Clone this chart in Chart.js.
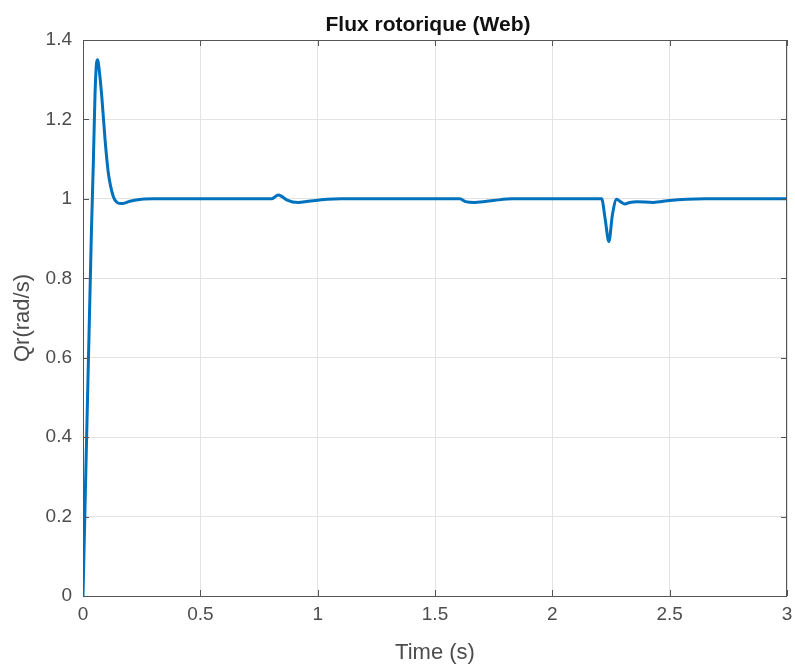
<!DOCTYPE html>
<html>
<head>
<meta charset="utf-8">
<script src="https://cdn.jsdelivr.net/npm/chart.js@4.4.0/dist/chart.umd.min.js"></script>
<style>
  html, body { margin: 0; padding: 0; background: #fff; }
  #wrap { width: 795px; height: 665px; }
</style>
</head>
<body>
<div id="wrap"><canvas id="fluxChart" width="795" height="665"></canvas></div>
<script>
// Flux rotorique simulé (Web) en fonction du temps
const temps = [0, 0.036, 0.044, 0.051, 0.058, 0.063, 0.068, 0.08, 0.094, 0.108, 0.129, 0.145, 0.165, 0.2, 0.25, 0.3, 0.4,
    0.804, 0.82, 0.832, 0.845, 0.87, 0.917, 0.96, 1.04, 1.1,
    1.606, 1.63, 1.67, 1.75, 1.83,
    2.21, 2.225, 2.241, 2.256, 2.274, 2.29, 2.309, 2.33, 2.359, 2.43, 2.5, 2.572, 2.65, 3.0];
const flux = [0, 0.92, 1.09, 1.258, 1.343, 1.35, 1.33, 1.258, 1.149, 1.065, 1.006, 0.991, 0.988, 0.994, 0.999, 1.0, 1.0,
    1.0, 1.006, 1.01, 1.007, 0.997, 0.991, 0.994, 0.999, 1.0,
    1.0, 0.993, 0.991, 0.996, 1.0,
    1.0, 0.95, 0.8925, 0.96, 0.999, 0.993, 0.987, 0.991, 0.993, 0.991, 0.996, 0.999, 1.0, 1.0];
const xTicks = [0, 0.5, 1, 1.5, 2, 2.5, 3];
const yTicks = [0, 0.2, 0.4, 0.6, 0.8, 1, 1.2, 1.4];

const titre = 'Flux rotorique (Web)';
const labelX = 'Time (s)';
const labelY = 'Qr(rad/s)';

const police = '"Liberation Sans", Arial, sans-serif';
const points = temps.map((t, i) => ({ x: t, y: flux[i] }));

// cadre complet + petites graduations vers l'intérieur, titre et labels
const decorPlugin = {
    id: 'decor',
    afterDraw(chart) {
        const { ctx, chartArea: a, scales } = chart;
        ctx.save();
        ctx.strokeStyle = '#555555';
        ctx.lineWidth = 1;
        ctx.strokeRect(a.left + 0.5, a.top + 0.5, a.right - a.left - 1, a.bottom - a.top);
        ctx.beginPath();
        xTicks.forEach(v => {
            const px = Math.round(scales.x.getPixelForValue(v)) + 0.5;
            ctx.moveTo(px, a.bottom); ctx.lineTo(px, a.bottom - 6);
            ctx.moveTo(px, a.top); ctx.lineTo(px, a.top + 6);
        });
        yTicks.forEach(v => {
            const py = Math.round(scales.y.getPixelForValue(v)) + 0.5;
            ctx.moveTo(a.left, py); ctx.lineTo(a.left + 6, py);
            ctx.moveTo(a.right, py); ctx.lineTo(a.right - 6, py);
        });
        ctx.stroke();

        ctx.fillStyle = '#111';
        ctx.font = 'bold 21px ' + police;
        ctx.textAlign = 'center';
        ctx.textBaseline = 'alphabetic';
        ctx.fillText(titre, 428, 31);

        ctx.fillStyle = '#4d4d4d';
        ctx.font = '22px ' + police;
        ctx.fillText(labelX, (a.left + a.right) / 2, 659);

        ctx.translate(29, (a.top + a.bottom) / 2);
        ctx.rotate(-Math.PI / 2);
        ctx.fillText(labelY, 0, 0);
        ctx.restore();
    }
};

new Chart(document.getElementById('fluxChart').getContext('2d'), {
    type: 'line',
    data: {
        datasets: [{
            data: points,
            borderColor: '#0072BD',
            borderWidth: 3,
            pointRadius: 0,
            cubicInterpolationMode: 'monotone',
            fill: false
        }]
    },
    options: {
        responsive: false,
        animation: false,
        layout: { padding: { top: 40, right: 8, left: 0, bottom: 0 } },
        plugins: { legend: { display: false }, title: { display: false }, tooltip: { enabled: false } },
        scales: {
            x: {
                type: 'linear',
                min: 0, max: 3,
                afterBuildTicks: s => { s.ticks = xTicks.map(v => ({ value: v })); },
                afterFit: s => { s.height = 69; s.paddingLeft = 0; s.paddingRight = 0; },
                grid: { color: '#e3e3e3', drawTicks: false },
                border: { display: false },
                ticks: { color: '#4d4d4d', padding: 7, maxRotation: 0, callback: v => String(v), font: { size: 19, family: police } }
            },
            y: {
                min: 0, max: 1.4,
                afterBuildTicks: s => { s.ticks = yTicks.map(v => ({ value: v })); },
                afterFit: s => { s.width = 83; s.paddingTop = 0; s.paddingBottom = 0; },
                grid: { color: '#e3e3e3', drawTicks: false },
                border: { display: false },
                ticks: { color: '#4d4d4d', padding: 11, callback: v => String(v), font: { size: 19, family: police } }
            }
        }
    },
    plugins: [decorPlugin]
});
</script>
</body>
</html>
